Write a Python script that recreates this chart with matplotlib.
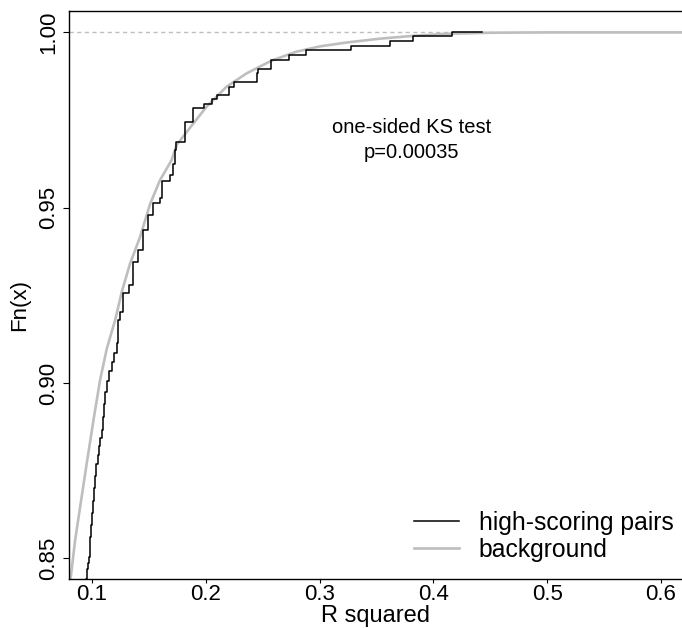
import matplotlib
matplotlib.use('Agg')
import matplotlib.pyplot as plt

plt.rcParams['font.family'] = ['Liberation Sans', 'DejaVu Sans']

# background ECDF (smooth, large sample)
bg_x = [0.0780, 0.0807, 0.0813, 0.0851, 0.0895, 0.0953, 0.1012, 0.1070, 0.1129,
        0.1202, 0.1261, 0.1333, 0.1421, 0.1509, 0.1596, 0.1699, 0.1743, 0.1889,
        0.2006, 0.2181, 0.2357, 0.2532, 0.2590, 0.2796, 0.3000, 0.3234, 0.3526,
        0.3818, 0.4111, 0.4500, 0.5000, 0.5500, 0.6300]
bg_F = [0.8360, 0.8441, 0.8447, 0.8552, 0.8647, 0.8771, 0.8894, 0.9008, 0.9098,
        0.9179, 0.9260, 0.9340, 0.9416, 0.9510, 0.9578, 0.9636, 0.9679, 0.9740,
        0.9788, 0.9845, 0.9883, 0.9912, 0.9921, 0.9945, 0.9960, 0.9971, 0.9982,
        0.9990, 0.9996, 0.9999, 1.0000, 1.0000, 1.0000]

# high-scoring pairs ECDF: jump positions and level after each jump
hs_x = [0.0940, 0.0947, 0.0953, 0.0958, 0.0966, 0.0976, 0.0985, 0.0991, 0.0997,
        0.1006, 0.1015, 0.1025, 0.1035, 0.1048, 0.1060, 0.1072, 0.1085, 0.1095,
        0.1105, 0.1117, 0.1129, 0.1150, 0.1175, 0.1195, 0.1217,
        0.1231, 0.1246, 0.1275, 0.1327, 0.1362, 0.1406, 0.1450, 0.1494, 0.1532,
        0.1596, 0.1611, 0.1684, 0.1713, 0.1728, 0.1737, 0.1816, 0.1889, 0.1982,
        0.2050, 0.2099, 0.2204, 0.2248, 0.2450, 0.2459, 0.2576, 0.2731, 0.2883,
        0.3272, 0.3614, 0.3818, 0.4161, 0.4430]
hs_F = [0.8350, 0.8441, 0.8452, 0.8470, 0.8487, 0.8504, 0.8560, 0.8594, 0.8628,
        0.8664, 0.8700, 0.8735, 0.8770, 0.8795, 0.8820, 0.8843, 0.8865, 0.8903,
        0.8940, 0.8974, 0.9007, 0.9034, 0.9060, 0.9087, 0.9113,
        0.9179, 0.9203, 0.9256, 0.9279, 0.9346, 0.9379, 0.9436, 0.9479, 0.9512,
        0.9527, 0.9577, 0.9593, 0.9626, 0.9664, 0.9688, 0.9745, 0.9783, 0.9795,
        0.9810, 0.9822, 0.9843, 0.9859, 0.9883, 0.9897, 0.9921, 0.9935, 0.9950,
        0.9962, 0.9975, 0.9989, 1.0000, 1.0000]

x_ticks = [0.1, 0.2, 0.3, 0.4, 0.5, 0.6]
y_ticks = [0.85, 0.90, 0.95, 1.00]

fig = plt.figure(figsize=(6.82, 6.28), dpi=100)
ax = fig.add_axes([69 / 682, 1 - 579 / 628, 1 - 69 / 682, (579 - 11) / 628])

ax.axhline(1.0, color='#BEBEBE', lw=1.0, ls=(0, (3, 2.5)), zorder=1)
ax.plot(bg_x, bg_F, color='#BEBEBE', lw=1.9, label='background', zorder=2)
ax.step(hs_x, hs_F, where='post', color='black', lw=1.1,
        label='high-scoring pairs', zorder=3)

ax.set_xlim(0.0797, 0.6184)
ax.set_ylim(0.8441, 1.0061)
ax.set_xticks(x_ticks)
ax.set_xticklabels(['0.1', '0.2', '0.3', '0.4', '0.5', '0.6'])
ax.set_yticks(y_ticks)
ax.set_yticklabels(['0.85', '0.90', '0.95', '1.00'], rotation=90, va='center')

ax.spines['right'].set_visible(False)
for s in ['left', 'top', 'bottom']:
    ax.spines[s].set_linewidth(1.0)
ax.tick_params(axis='x', length=3, width=0.8, pad=0.5, labelsize=16)
ax.tick_params(axis='y', length=4, width=0.8, pad=3, labelsize=16)

ax.set_xlabel('R squared', fontsize=17, labelpad=0)
ax.set_ylabel('Fn(x)', fontsize=16, va='center')
ax.yaxis.set_label_coords(-0.080, 0.482)

ax.text(0.381, 0.9729, 'one-sided KS test', fontsize=14.5, ha='center', va='center')
ax.text(0.381, 0.9656, 'p=0.00035', fontsize=14.5, ha='center', va='center')

handles, labels = ax.get_legend_handles_labels()
ax.legend(handles[::-1], labels[::-1], loc='lower right', frameon=False,
          fontsize=17.8, handlelength=1.8, handletextpad=0.8, labelspacing=0.1,
          borderaxespad=0.1, bbox_to_anchor=(1.006, 0.009))

fig.savefig('out.png', dpi=100)
